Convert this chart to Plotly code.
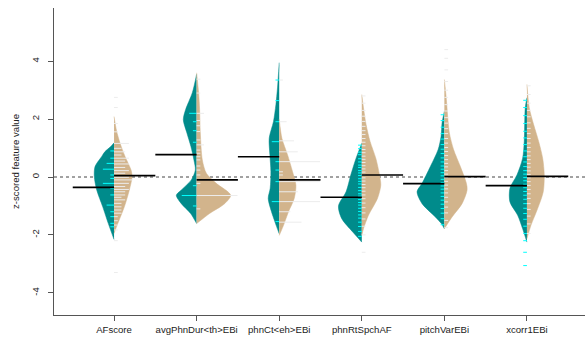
import plotly.graph_objects as go

# ---------------- data ----------------
categories = ["AFscore", "avgPhnDur<th>EBi", "phnCt<eh>EBi", "phnRtSpchAF", "pitchVarEBi", "xcorr1EBi"]

# density outlines: y levels (top -> bottom) and density (half-width) values
left_y = [
    [1.18, 1.05, 0.88, 0.71, 0.36, 0.01, -0.45, -1.03, -1.61, -2.16],
    [3.55, 2.91, 2.33, 1.98, 1.52, 1.05, 0.59, 0.24, -0.10, -0.45, -0.63, -0.92, -1.26, -1.61],
    [3.95, 3.08, 2.50, 1.92, 1.34, 0.77, 0.19, -0.39, -0.74, -1.20, -1.55, -1.96],
    [1.17, 0.65, 0.07, -0.51, -1.00, -1.44, -1.90, -2.25],
    [2.27, 1.87, 1.40, 0.94, 0.36, -0.22, -0.51, -0.92, -1.38, -1.61, -1.79],
    [2.74, 2.39, 1.23, 0.65, 0.07, -0.39, -0.86, -1.32, -1.79, -2.25],
]
left_d = [
    [0, 3.3, 9.0, 12.3, 19.0, 19.7, 17.3, 11.3, 5.7, 0],
    [0, 4.3, 11.0, 13.3, 9.7, 5.7, 2.7, 1.3, 5.3, 15.3, 20.3, 15.3, 6.0, 0],
    [0, 1.7, 3.3, 5.7, 10.0, 9.3, 8.3, 9.0, 11.0, 7.7, 4.3, 0],
    [0, 5.7, 11.0, 15.7, 23.3, 20.0, 9.0, 0],
    [0, 2.3, 3.3, 6.3, 14.0, 22.3, 27.3, 22.3, 9.0, 3.0, 0],
    [0, 1.7, 2.7, 4.3, 10.0, 17.0, 17.0, 9.3, 4.3, 0],
]
right_y = [
    [2.09, 1.60, 1.17, 0.71, 0.24, 0.01, -0.45, -1.03, -1.61, -1.95],
    [3.60, 2.90, 2.33, 1.52, 0.59, 0.13, -0.22, -0.63, -0.92, -1.26, -1.61],
    [2.00, 1.34, 0.77, 0.19, -0.28, -0.74, -1.20, -1.67, -2.02],
    [2.85, 2.39, 1.81, 1.23, 0.65, 0.07, -0.28, -0.74, -1.32, -1.79, -2.02],
    [3.37, 2.68, 2.10, 1.52, 0.94, 0.36, -0.22, -0.45, -0.92, -1.38, -1.79],
    [3.20, 2.39, 1.81, 1.23, 0.65, 0.07, -0.51, -1.09, -1.67, -2.13],
]
right_d = [
    [0, 2.5, 6.0, 11.0, 17.0, 18.0, 15.3, 10.3, 3.7, 0],
    [0, 2.0, 3.0, 3.7, 5.7, 9.7, 19.7, 34.0, 28.0, 13.0, 0],
    [0, 2.7, 8.3, 13.3, 16.7, 15.0, 9.3, 4.3, 0],
    [0, 1.7, 4.3, 8.3, 14.0, 17.7, 19.0, 15.7, 6.7, 1.7, 0],
    [0, 2.0, 3.3, 5.0, 9.3, 16.0, 22.0, 22.7, 17.7, 7.7, 0],
    [0, 2.3, 6.7, 11.7, 15.7, 17.3, 16.3, 10.7, 4.0, 0],
]

# bean lines (individual observations) and their multiplicities
left_lines = [
    [0.90, 0.65, 0.47, 0.27, 0.07, -0.05, -0.22, -0.39, -0.62, -0.97, -1.20, -1.37, -1.60, -1.72],
    [2.20, 1.91, 1.60, 1.20, -0.30, -0.64, -1.00],
    [3.35, 2.64, 1.91, 1.22, 0.53, 0.24, -0.16, -0.85, -1.54],
    [1.10, 0.98, 0.86, 0.77, 0.63, 0.52, 0.41, 0.33, 0.22, 0.14, 0.05, -0.06, -0.15, -0.24, -0.36,
     -0.47, -0.58, -0.66, -0.78, -0.88, -0.97, -1.08, -1.19, -1.31, -1.42, -1.56, -1.71, -1.88, -2.05],
    [2.15, 1.95, 1.72, 1.50, 1.31, 1.12, 0.96, 0.81, 0.66, 0.52, 0.38, 0.27, 0.15, 0.04, -0.08,
     -0.19, -0.31, -0.42, -0.55, -0.67, -0.80, -0.94, -1.09, -1.25, -1.44, -1.65],
    [2.65, 2.40, 2.12, 1.85, 1.58, 1.35, 1.12, 0.90, 0.70, 0.52, 0.36, 0.22, 0.10, -0.02, -0.13,
     -0.25, -0.37, -0.50, -0.63, -0.77, -0.92, -1.08, -1.26, -1.46, -1.70, -1.95, -2.20, -2.60, -3.06],
]
left_counts = [
    [1, 1, 2, 3, 1, 1, 3, 1, 1, 2, 1, 1, 1, 1],
    [2, 1, 1, 1, 1, 4, 1],
    [1, 1, 1, 2, 1, 1, 1, 2, 1],
    [1] * 29,
    [1] * 26,
    [1] * 29,
]
right_lines = [
    [2.75, 2.40, 1.85, 1.56, 1.16, 0.99, 0.87, 0.76, 0.65, 0.55, 0.45, 0.33, 0.22, 0.13, -0.01, -0.10,
     -0.22, -0.33, -0.43, -0.51, -0.62, -0.70, -0.79, -0.91, -1.03, -1.14, -1.25, -1.37, -1.51, -1.66,
     -1.83, -2.20, -3.30],
    [3.38, 2.90, 2.20, 1.95, 1.77, 1.57, 1.28, 1.11, 0.93, 0.82, 0.70, 0.59, 0.38, 0.24, 0.07, -0.22,
     -0.64, -1.10],
    [3.35, 1.91, 1.25, 0.87, 0.53, 0.18, 0.07, -0.16, -0.51, -0.85, -1.20, -1.56],
    [2.80, 2.55, 2.30, 2.10, 1.92, 1.75, 1.60, 1.47, 1.33, 1.20, 1.08, 0.95, 0.84, 0.72, 0.61, 0.50,
     0.39, 0.28, 0.17, 0.08, -0.03, -0.14, -0.26, -0.37, -0.49, -0.62, -0.75, -0.90, -1.06, -1.24,
     -1.45, -1.70, -2.00, -2.60],
    [4.40, 4.10, 3.70, 3.30, 3.00, 2.75, 2.50, 2.28, 2.05, 1.86, 1.67, 1.50, 1.33, 1.17, 1.02, 0.88,
     0.74, 0.60, 0.47, 0.35, 0.22, 0.10, -0.02, -0.15, -0.28, -0.41, -0.55, -0.70, -0.86, -1.04,
     -1.24, -1.50, -1.75],
    [3.15, 2.85, 2.55, 2.30, 2.08, 1.87, 1.68, 1.50, 1.33, 1.17, 1.02, 0.87, 0.73, 0.60, 0.47, 0.34,
     0.21, 0.09, -0.03, -0.16, -0.29, -0.43, -0.58, -0.74, -0.92, -1.12, -1.35, -1.62, -1.95],
]
right_counts = [
    [1, 1, 1, 1, 4, 2, 3, 2, 4, 3, 4, 3, 4, 3, 4, 5, 4, 3, 4, 3, 3, 2, 3, 2, 2, 2, 2, 1, 1, 1, 1, 1, 1],
    [1, 1, 2, 1, 1, 1, 1, 2, 1, 1, 1, 1, 1, 1, 1, 1, 11, 1],
    [1, 2, 4, 5, 11, 1, 1, 11, 5, 11, 3, 6],
    [1] * 34,
    [1] * 33,
    [1] * 29,
]

# group means (left = teal group, right = tan group)
left_means = [-0.36, 0.77, 0.70, -0.70, -0.23, -0.30]
right_means = [0.05, -0.10, -0.10, 0.07, 0.01, 0.02]

y_ticks = [-4, -2, 0, 2, 4]
y_ticklabels = ["-4", "-2", "0", "2", "4"]

# ---------------- styling ----------------
TEAL = "#008B8B"
TAN = "#D2B48C"
CYAN = "#00FFFF"
LINE_W = "#ECECEC"
DSCALE = 1 / 82.5      # density -> x units
LSCALE = 0.045         # one observation line length
MEAN_LEN = 0.5
FONT = "Liberation Sans, Arial, Helvetica, sans-serif"

fig = go.Figure()

for i, cat in enumerate(categories):
    c = i + 1
    fig.add_trace(go.Scatter(
        x=[c - d * DSCALE for d in left_d[i]], y=left_y[i],
        mode="lines", fill="toself", fillcolor=TEAL,
        line=dict(color=TEAL, width=0.5, shape="spline", smoothing=0.8),
        hoverinfo="skip", showlegend=False))
    fig.add_trace(go.Scatter(
        x=[c + d * DSCALE for d in right_d[i]], y=right_y[i],
        mode="lines", fill="toself", fillcolor=TAN,
        line=dict(color=TAN, width=0.5, shape="spline", smoothing=0.8),
        hoverinfo="skip", showlegend=False))

# bean lines
for i, cat in enumerate(categories):
    c = i + 1
    xs, ys = [], []
    for v, n in zip(left_lines[i], left_counts[i]):
        xs += [c - n * LSCALE, c, None]
        ys += [v, v, None]
    fig.add_trace(go.Scatter(x=xs, y=ys, mode="lines", line=dict(color=CYAN, width=1),
                             hoverinfo="skip", showlegend=False))
    xs, ys = [], []
    for v, n in zip(right_lines[i], right_counts[i]):
        xs += [c, c + n * LSCALE, None]
        ys += [v, v, None]
    fig.add_trace(go.Scatter(x=xs, y=ys, mode="lines", line=dict(color=LINE_W, width=1),
                             hoverinfo="skip", showlegend=False))

# mean lines
xs, ys = [], []
for i in range(len(categories)):
    c = i + 1
    xs += [c - MEAN_LEN, c, None, c, c + MEAN_LEN, None]
    ys += [left_means[i], left_means[i], None, right_means[i], right_means[i], None]
fig.add_trace(go.Scatter(x=xs, y=ys, mode="lines", line=dict(color="black", width=1.7),
                         hoverinfo="skip", showlegend=False))

# overall mean dotted line
fig.add_shape(type="line", xref="paper", x0=0, x1=1, yref="y", y0=0, y1=0,
              line=dict(color="#444444", width=1, dash="dot"), layer="below")

fig.update_layout(
    width=585, height=344,
    margin=dict(l=54, r=0, t=8, b=29),
    plot_bgcolor="white", paper_bgcolor="white",
    font=dict(family=FONT, size=9.6, color="#222222"),
    xaxis=dict(range=[0.273, 6.703], tickvals=list(range(1, len(categories) + 1)),
               ticktext=categories, showgrid=False, zeroline=False,
               showline=True, linecolor="#555555", linewidth=1,
               ticks="outside", ticklen=5, tickcolor="#555555",
               tickfont=dict(size=9.6, family=FONT, color="#222222")),
    yaxis=dict(range=[-4.767, 5.838], tickvals=y_ticks, ticktext=y_ticklabels,
               tickangle=-90, showgrid=False, zeroline=False,
               showline=True, linecolor="#555555", linewidth=1,
               ticks="outside", ticklen=5, tickcolor="#555555", ticklabelstandoff=5,
               tickfont=dict(size=9.6, family=FONT, color="#222222"),
               title=dict(text="z-scored feature value", standoff=8,
                          font=dict(size=9.6, family=FONT, color="#222222"))),
)

fig.write_html("out.html")
